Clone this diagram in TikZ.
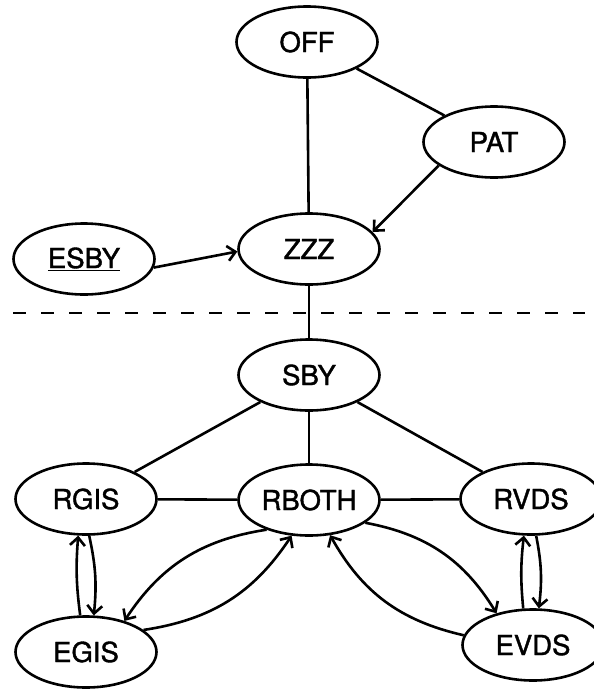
\documentclass[tikz,border=0pt]{standalone}
\usepackage{fontspec}
\setmainfont{TeX Gyre Heros}[FakeBold=1.4]
\usetikzlibrary{shapes.geometric,arrows.meta}
\tikzset{
  state/.style={ellipse, draw, line width=2.6pt, minimum width=141pt, minimum height=71pt,
    inner sep=0pt, font=\fontsize{27.5}{30}\selectfont},
  link/.style={line width=2.6pt},
  arr/.style={line width=2.6pt, -{Straight Barb[length=8pt,width=15pt]}},
}
\begin{document}
\begin{tikzpicture}[x=1pt,y=-1pt]
\useasboundingbox (0,0) rectangle (594,689);

% upper part
\node[state] (OFF)  at (307,42)  {OFF};
\node[state] (PAT)  at (494,142) {PAT};
\node[state] (ZZZ)  at (309,249) {ZZZ};
\node[state] (ESBY) at (84,259)  {\underline{ESBY}};

% separator
\coordinate (sepL) at (13,313);
\coordinate (sepR) at (585,313);
\draw[line width=2.4pt, dash pattern=on 13pt off 15pt] (sepL) -- (sepR);

% lower part
\node[state] (SBY)   at (309,375) {SBY};
\node[state] (RGIS)  at (86,499)  {RGIS};
\node[state] (RBOTH) at (309,500) {RBOTH};
\node[state] (RVDS)  at (531,499) {RVDS};
\node[state] (EGIS)  at (86,652)  {EGIS};
\node[state] (EVDS)  at (533,645) {EVDS};

% plain links
\draw[link] (OFF) -- (ZZZ);
\draw[link] (OFF) -- (PAT);
\draw[link] (ZZZ) -- (SBY);
\draw[link] (SBY) -- (RGIS);
\draw[link] (SBY) -- (RBOTH);
\draw[link] (SBY) -- (RVDS);
\draw[link] (RGIS) -- (RBOTH);
\draw[link] (RBOTH) -- (RVDS);

% directed transitions
\draw[arr] (PAT.203) -- (ZZZ.15);
\draw[arr] (ESBY.353) -- (ZZZ.182);

\draw[arr] (EGIS.99) to[bend left=6] (RGIS.258);
\draw[arr] (RGIS.275) to[bend left=9] (EGIS.78);

\draw[arr] (RBOTH.215) to[bend right=24] (EGIS.39);
\draw[arr] (EGIS.21) to[bend right=24] (RBOTH.244);

\draw[arr] (RBOTH.338) to[bend left=24] (EVDS.139);
\draw[arr] (EVDS.172) to[bend left=24] (RBOTH.301);

\draw[arr] (EVDS.105) to[bend left=6] (RVDS.259);
\draw[arr] (RVDS.278) to[bend left=9] (EVDS.81);
\end{tikzpicture}
\end{document}
